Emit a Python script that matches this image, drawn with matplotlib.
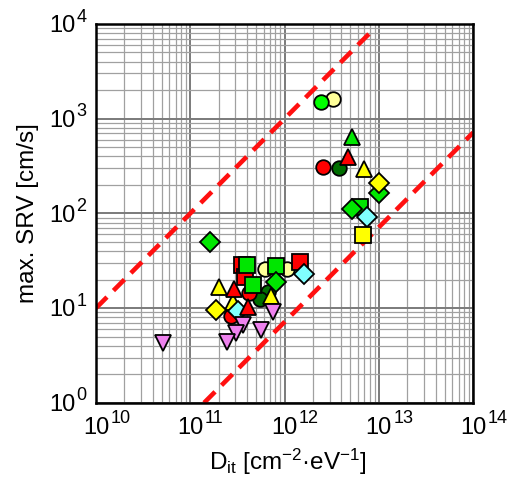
import matplotlib
matplotlib.use("Agg")
import matplotlib.pyplot as plt
import matplotlib.ticker as mticker
import numpy as np

plt.rcParams['font.family'] = ['Liberation Sans', 'DejaVu Sans']
plt.rcParams['mathtext.fontset'] = 'custom'
plt.rcParams['mathtext.rm'] = 'Liberation Sans'
plt.rcParams['mathtext.it'] = 'Liberation Sans:italic'

# --- data: (Dit [cm^-2 eV^-1], max SRV [cm/s]) ---
dkgreen_circle_x = [3.81e12, 6.68e11, 5.5e11]
dkgreen_circle_y = [300, 14.8, 12.5]
red_circle_x = [2.54e12, 4.2e11, 2.70e11]
red_circle_y = [312, 14.5, 8.3]
ltyellow_circle_x = [3.30e12, 6.14e11, 1.06e12]
ltyellow_circle_y = [1630, 26.1, 25.9]
lime_circle_x = [2.42e12]
lime_circle_y = [1490]

yellow_tri_x = [6.98e12, 2.02e11, 7.24e11, 2.84e11]
yellow_tri_y = [297, 16.9, 13.3, 11.6]
red_square_x = [3.52e11, 1.45e12, 3.77e11]
red_square_y = [28.6, 31.0, 21.1]
green_square_x = [6.32e12, 4.03e11, 8.13e11, 4.57e11]
green_square_y = [118, 28.6, 27.6, 17.6]
cyan_diamond_x = [7.45e12, 1.61e12, 3.24e11]
cyan_diamond_y = [91, 23.0, 9.35]
green_diamond_x = [1.0e13, 5.16e12, 1.62e11, 8.13e11]
green_diamond_y = [163, 111, 50.4, 18.9]
yellow_diamond_x = [1.01e13, 1.88e11]
yellow_diamond_y = [208, 9.6]
yellow_square_x = [6.76e12]
yellow_square_y = [59.3]
red_tri_x = [4.75e12, 2.94e11, 4.13e11]
red_tri_y = [395, 16.0, 10.4]
green_tri_x = [5.16e12]
green_tri_y = [637]
violet_tri_x = [5.18e10, 7.5e11, 3.66e11, 3.02e11, 2.45e11, 5.56e11]
violet_tri_y = [4.27, 9.12, 6.58, 5.41, 4.43, 5.82]

# guide lines
upper_line_x = [1e10, 8.7e12]
upper_line_y = [10, 8.7e3]
lower_line_x = [1.4e11, 1e14]
lower_line_y = [1, 714]

x_exponents = [10, 11, 12, 13, 14]
y_exponents = [0, 1, 2, 3, 4]

fig = plt.figure(figsize=(5.16, 4.79), dpi=100)
ax = fig.add_axes([0.186, 0.159, 0.731, 0.791])

ax.plot(upper_line_x, upper_line_y, color='#ff1010', lw=3.3,
        linestyle=(0, (3.4, 2.0)), zorder=2)
ax.plot(lower_line_x, lower_line_y, color='#ff1010', lw=3.3,
        linestyle=(0, (3.4, 2.0)), zorder=2)

series = [
    (dkgreen_circle_x, dkgreen_circle_y, 'o', '#006e00', 10.5),
    (red_circle_x, red_circle_y, 'o', '#ff0000', 10.5),
    (ltyellow_circle_x, ltyellow_circle_y, 'o', '#ffff99', 10.5),
    (lime_circle_x, lime_circle_y, 'o', '#00ff00', 10.5),
    (yellow_tri_x, yellow_tri_y, '^', '#ffff00', 12),
    (red_square_x, red_square_y, 's', '#ff0000', 11.5),
    (green_square_x, green_square_y, 's', '#00e600', 11.5),
    (cyan_diamond_x, cyan_diamond_y, 'D', '#80ffff', 10.5),
    (green_diamond_x, green_diamond_y, 'D', '#00e600', 10.5),
    (yellow_diamond_x, yellow_diamond_y, 'D', '#ffff00', 10.5),
    (yellow_square_x, yellow_square_y, 's', '#ffff00', 11.5),
    (red_tri_x, red_tri_y, '^', '#ff0000', 12),
    (green_tri_x, green_tri_y, '^', '#00e600', 12),
    (violet_tri_x, violet_tri_y, 'v', '#ee82ee', 11.5),
]
for xs, ys, mk, col, ms in series:
    ax.plot(xs, ys, linestyle='none', marker=mk, ms=ms, mfc=col,
            mec='black', mew=1.3, zorder=3)

ax.set_xscale('log')
ax.set_yscale('log')
ax.set_xlim(1e10, 1e14)
ax.set_ylim(1, 1e4)
for axis in (ax.xaxis, ax.yaxis):
    axis.set_major_locator(mticker.LogLocator(base=10, numticks=20))
    axis.set_minor_locator(mticker.LogLocator(base=10, subs=np.arange(2, 10), numticks=100))
    axis.set_major_formatter(mticker.NullFormatter())
    axis.set_minor_formatter(mticker.NullFormatter())

ax.grid(True, which='major', color='#7a7a7a', lw=1.4)
ax.grid(True, which='minor', color='#a0a0a0', lw=0.9)
ax.set_axisbelow(True)
ax.tick_params(which='both', length=0)
for s in ax.spines.values():
    s.set_linewidth(1.8)

# tick labels: "10" centred on the tick, exponent set to the right
for e in x_exponents:
    ax.annotate('10', xy=(10.0**e, 0), xycoords=('data', 'axes fraction'),
                xytext=(0, -22.5), textcoords='offset points',
                ha='center', va='baseline', fontsize=17, annotation_clip=False)
    ax.annotate(str(e), xy=(10.0**e, 0), xycoords=('data', 'axes fraction'),
                xytext=(10.3, -14.8), textcoords='offset points',
                ha='left', va='baseline', fontsize=13, annotation_clip=False)
for e in y_exponents:
    ax.annotate('10', xy=(0, 10.0**e), xycoords=('axes fraction', 'data'),
                xytext=(-14.4, -6.0), textcoords='offset points',
                ha='right', va='baseline', fontsize=17, annotation_clip=False)
    ax.annotate(str(e), xy=(0, 10.0**e), xycoords=('axes fraction', 'data'),
                xytext=(-14.0, 1.7), textcoords='offset points',
                ha='left', va='baseline', fontsize=13, annotation_clip=False)

fig.text(0.054, 0.159 + 0.791 / 2, 'max. SRV [cm/s]', rotation=90,
         ha='center', va='center', fontsize=17.5)
fig.text(0.558, 1 - 470 / 479,
         r'D$_\mathregular{it}$ [cm$^\mathregular{-2}$·eV$^\mathregular{-1}$]',
         ha='center', va='baseline', fontsize=17.5)

fig.savefig('out.png', dpi=100)
